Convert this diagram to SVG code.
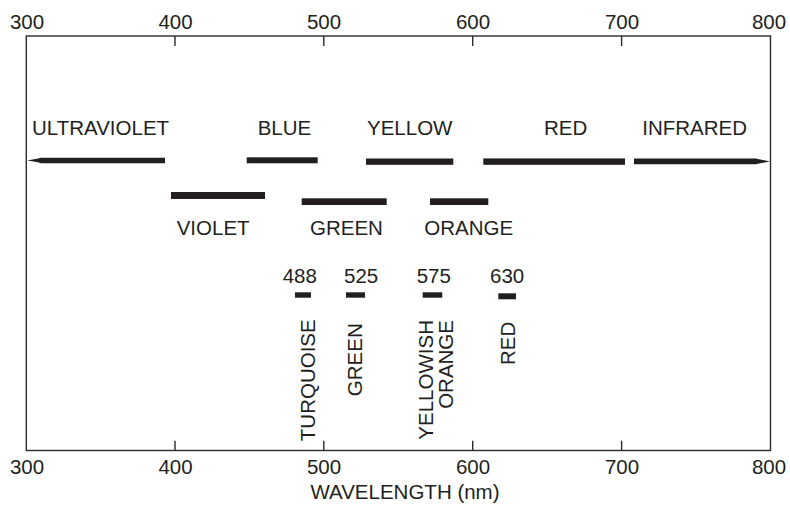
<svg xmlns="http://www.w3.org/2000/svg" width="790" height="508" viewBox="0 0 790 508">
  <style>
    text { font-family: "Liberation Sans", Arial, sans-serif; font-size: 20.5px; fill: #231f20; }
    .mid { text-anchor: middle; }
    .end { text-anchor: end; }
    .axis { fill: none; stroke: #2b2b2b; stroke-width: 1.4; }
    .bar { fill: #231f20; }
  </style>
  <rect width="790" height="508" fill="#ffffff"/>

  <!-- frame and ticks -->
  <g id="axes">
    <rect class="axis" x="26.3" y="36" width="744.2" height="414.5"/>
    <path class="axis" d="M175,36V46 M323.8,36V46 M472.7,36V46 M621.6,36V46 M175,450.5V440.7 M323.8,450.5V440.7 M472.7,450.5V440.7 M621.6,450.5V440.7"/>
    <g class="mid">
      <text x="27" y="28.5">300</text>
      <text x="175.5" y="28.5">400</text>
      <text x="324" y="28.5">500</text>
      <text x="473" y="28.5">600</text>
      <text x="622" y="28.5">700</text>
      <text x="769" y="28.5">800</text>
      <text x="27" y="473.5">300</text>
      <text x="175.5" y="473.5">400</text>
      <text x="324" y="473.5">500</text>
      <text x="473" y="473.5">600</text>
      <text x="622" y="473.5">700</text>
      <text x="769" y="473.5">800</text>
      <text x="405" y="499">WAVELENGTH (nm)</text>
    </g>
  </g>

  <!-- spectral bands -->
  <g id="ultraviolet">
    <polygon class="bar" points="27.3,160.4 38,158.6 41,157.8 165,157.8 165,163.2 41,163.2 38,162.3"/>
    <text x="32" y="135">ULTRAVIOLET</text>
  </g>
  <g id="violet">
    <rect class="bar" x="171" y="192" width="94" height="7"/>
    <text x="176.7" y="235">VIOLET</text>
  </g>
  <g id="blue">
    <rect class="bar" x="246.7" y="157.3" width="71" height="6"/>
    <text x="257.7" y="135">BLUE</text>
  </g>
  <g id="green">
    <rect class="bar" x="301.7" y="198.3" width="85" height="6.7"/>
    <text x="310" y="235">GREEN</text>
  </g>
  <g id="yellow">
    <rect class="bar" x="366" y="158.5" width="87.3" height="6.3"/>
    <text x="367" y="135">YELLOW</text>
  </g>
  <g id="orange">
    <rect class="bar" x="430" y="198.3" width="58.3" height="6.7"/>
    <text x="424.3" y="235">ORANGE</text>
  </g>
  <g id="red">
    <rect class="bar" x="483.3" y="158.4" width="141.7" height="6.4"/>
    <text x="544" y="135">RED</text>
  </g>
  <g id="infrared">
    <polygon class="bar" points="634,158.4 756,158.4 759,159.2 770,161.4 759,163.6 756,164.3 634,164.3"/>
    <text x="642.3" y="135">INFRARED</text>
  </g>

  <!-- laser lines -->
  <g id="line-488">
    <rect class="bar" x="295" y="292.3" width="16" height="5.4"/>
    <text x="282.7" y="283.3">488</text>
    <text class="end" transform="translate(315,319.3) rotate(-90)">TURQUOISE</text>
  </g>
  <g id="line-525">
    <rect class="bar" x="346" y="292.3" width="19" height="5.4"/>
    <text x="344" y="283.3">525</text>
    <text class="end" transform="translate(362.3,323.3) rotate(-90)">GREEN</text>
  </g>
  <g id="line-575">
    <rect class="bar" x="422.7" y="292.3" width="19.6" height="5.4"/>
    <text x="416.7" y="283.3">575</text>
    <text class="end" transform="translate(432.7,320) rotate(-90)">YELLOWISH</text>
    <text class="end" transform="translate(453.3,320) rotate(-90)">ORANGE</text>
  </g>
  <g id="line-630">
    <rect class="bar" x="498.3" y="293.3" width="17.7" height="6"/>
    <text x="490" y="283.3">630</text>
    <text class="end" transform="translate(515,321.7) rotate(-90)">RED</text>
  </g>

  <g id="connectors"/>
</svg>
